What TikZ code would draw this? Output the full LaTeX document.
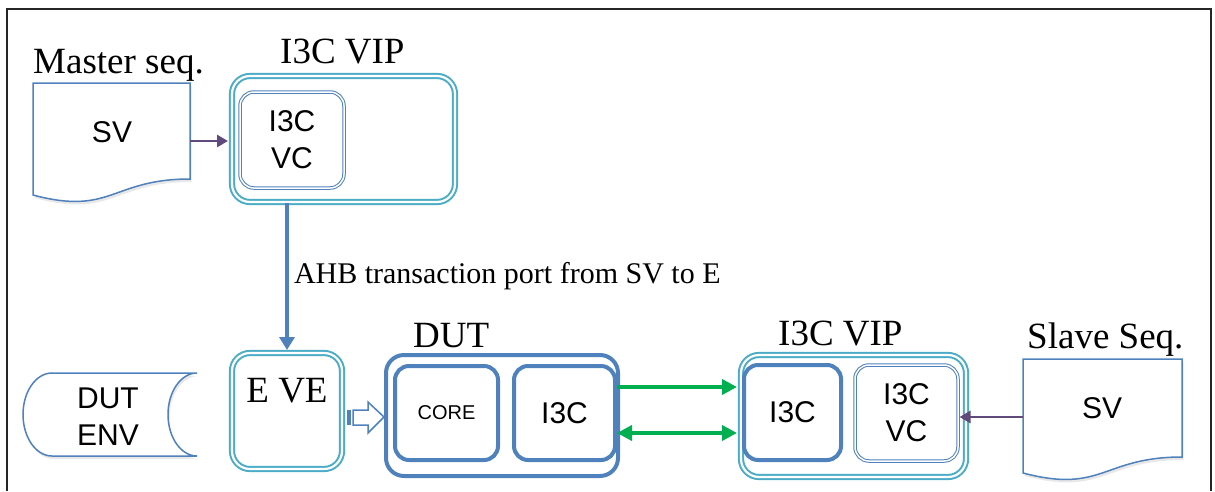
\documentclass[tikz,border=0pt]{standalone}
\usepackage{fontspec}
\setmainfont{Liberation Serif}
\newfontfamily\arial{Liberation Sans}
\usetikzlibrary{arrows.meta,calc,shadows}
\definecolor{tealline}{HTML}{4BACC6}
\definecolor{blueline}{HTML}{4F81BD}
\definecolor{purpleline}{HTML}{604A7B}
\definecolor{greenline}{HTML}{00B050}
\newcommand\sanstext{\arial\fontsize{30}{37}\selectfont}
\newcommand\captext{\fontsize{37}{40}\selectfont}

\begin{document}
\begin{tikzpicture}[x=1pt,y=-1pt,
  vipbox/.style={draw=tealline, line width=2pt, double=white, double distance=2.2pt,
    rounded corners=18pt, inner sep=0pt},
  vcbox/.style={draw=blueline, line width=1pt, double=white, double distance=1.5pt,
    rounded corners=14pt, inner sep=0pt, font=\sanstext, align=center},
  blockbox/.style={draw=blueline, line width=4pt, rounded corners=14pt, inner sep=0pt,
    font=\sanstext},
  docline/.style={draw=blueline, line width=1.5pt, fill=white,
    drop shadow={opacity=0.18, shadow xshift=1.5pt, shadow yshift=-3pt}},
  caption/.style={font=\captext, inner sep=0pt, anchor=base west},
  purplearrow/.style={draw=purpleline, line width=2.8pt,
    -{Triangle[length=11pt,width=12pt]}},
  bluearrow/.style={draw=blueline, line width=4pt,
    -{Triangle[length=13pt,width=15pt]}},
  greenarrow/.style={draw=greenline, line width=4pt},
  greentip/.tip={Triangle[length=15pt,width=15pt]}
]
\useasboundingbox (0,0) rectangle (1215,491);

% outer frame, open at the bottom
\draw[line width=2pt, black!85] (7,491) -- (7,9) -- (1211,9) -- (1211,491);

% ---------- upper row: master sequence and first VIP ----------
\node[caption] (mastercap) at (33,73) {Master seq.};
\path[docline] (33,83) -- (190,83) -- (190,179)
  .. controls (111.5,179) and (111.5,216) .. (33,195) -- cycle;
\node[font=\sanstext] (svA) at (112,132) {SV};
\coordinate (docAout) at (190,141);

\node[caption] (vipAcap) at (280,63) {I3C VIP};
\node[vipbox, minimum width=223pt, minimum height=126pt] (vipA) at (343.5,139) {};
\node[vcbox, minimum width=104pt, minimum height=96pt] (vcA) at (292,140) {I3C\\VC};

\draw[purplearrow, shorten >=3pt] (docAout) -- (vipA.west |- docAout);

% ---------- lower row ----------
\path[docline] (52,373) -- (197,373)
  arc[start angle=90, end angle=270, x radius=29pt, y radius=41.5pt]
  -- (52,456)
  arc[start angle=270, end angle=90, x radius=29pt, y radius=41.5pt] -- cycle;
\node[font=\sanstext, align=center] (env) at (108,417) {DUT\\ENV};

\node[vipbox, minimum width=110pt, minimum height=116pt] (eve) at (287,411) {};
\node[font=\captext, inner sep=0pt, anchor=base] (evetext) at (287,402) {E VE};

% transaction port
\draw[bluearrow, shorten >=2pt] (eve.north |- vipA.south) -- (eve.north)
  node[pos=0.5, font=\fontsize{30}{34}\selectfont, anchor=west, inner sep=0pt,
       xshift=5pt, yshift=1pt] (ahb) {AHB transaction port from SV to E};

% hollow block arrow from E VE into the DUT
\begin{scope}[shift={(eve.east)}]
  \fill[blueline] (4,-1) rectangle (8,14);
  \draw[blueline, line width=1.5pt, fill=white, line join=miter]
    (10,-1) -- (25,-1) -- (25,-9) -- (41,6) -- (25,22) -- (25,14) -- (10,14) -- cycle;
\end{scope}

% DUT
\node[caption] (dutcap) at (413,347) {DUT};
\node[blockbox, rounded corners=18pt, minimum width=232pt, minimum height=121pt]
  (dut) at (502,415.5) {};
\node[blockbox, minimum width=103pt, minimum height=94pt,
  font=\arial\fontsize{20}{24}\selectfont] (core) at (446.5,413) {CORE};
\node[blockbox, minimum width=101pt, minimum height=94pt] (i3cA) at (564.5,413) {I3C};

% second VIP
\node[caption] (vipBcap) at (778,345) {I3C VIP};
\node[vipbox, minimum width=225pt, minimum height=122pt] (vipB) at (853.5,416) {};
\node[blockbox, minimum width=97pt, minimum height=95pt] (i3cB) at (792.5,412.5) {I3C};
\node[vcbox, minimum width=103pt, minimum height=96pt] (vcB) at (906.5,413) {I3C\\VC};

% I3C bus lines
\draw[greenarrow, -greentip, shorten >=3pt]
  ([yshift=26pt]i3cA.east) -- ([yshift=26pt]i3cA.east -| vipB.west);
\draw[greenarrow, greentip-greentip, shorten >=3pt]
  ([yshift=-20pt]i3cA.east) -- ([yshift=-20pt]i3cA.east -| vipB.west);

% slave sequence
\node[caption] (slavecap) at (1027,348) {Slave Seq.};
\path[docline] (1023,359) -- (1182,359) -- (1182,457)
  .. controls (1102.5,457) and (1102.5,494) .. (1023,473) -- cycle;
\node[font=\sanstext] (svB) at (1102,408) {SV};
\coordinate (docBin) at (1023,417);
\draw[purplearrow, shorten >=1pt] (docBin) -- (vcB.east |- docBin);
\end{tikzpicture}
\end{document}
